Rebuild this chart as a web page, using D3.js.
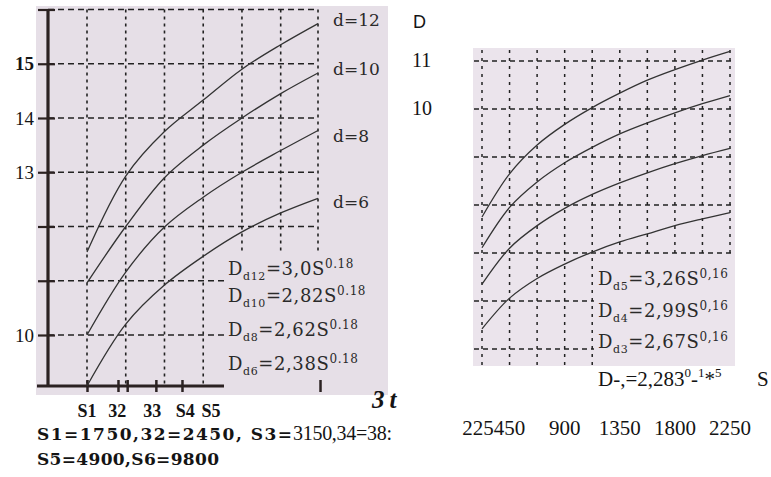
<!DOCTYPE html>
<html>
<head>
<meta charset="utf-8">
<script src="https://cdn.jsdelivr.net/npm/d3@7/dist/d3.min.js"></script>
<style>
  body { margin: 0; background: #fff; }
  svg text { fill: #141414; }
</style>
</head>
<body>
<div id="chart"></div>
<script>
// ---------- values ----------
// left panel: S at the vertical grid lines, D of each curve there
var leftS = [1750, 3100, 4450, 5800, 7150, 8500, 9800];
var leftD12 = [11.53, 12.93, 13.75, 14.33, 14.90, 15.35, 15.74];
var leftD10 = [10.96, 12.00, 12.90, 13.50, 14.00, 14.45, 14.83];
var leftD8 = [10.00, 11.16, 11.99, 12.54, 13.00, 13.40, 13.77];
var leftD6 = [9.06, 10.20, 10.92, 11.45, 11.90, 12.25, 12.52];
var leftNames = ['d=12', 'd=10', 'd=8', 'd=6'];
var leftNameD = [15.7, 14.8, 13.55, 12.35];
var leftSub = ['d12', 'd10', 'd8', 'd6'];
var leftCoef = ['=3,0S', '=2,82S', '=2,62S', '=2,38S'];
var leftExp = '0.18';
var leftYTicks = [10, 11, 12, 13, 14, 15, 16];
var leftYLabels = [15, 14, 13, 10];
var leftBase = 9.06;
var leftXTicks = [1750, 2830, 3150, 4150, 5060, 9870];
var leftXLabels = ['S1', '32', '33', 'S4', 'S5'];
var leftXLabelS = [1750, 2800, 4020, 5170, 6070];

// right panel
var rightS = [225, 450, 675, 900, 1125, 1350, 1575, 1800, 2025, 2250];
var rightD5 = [7.75, 8.65, 9.25, 9.68, 10.03, 10.33, 10.60, 10.82, 11.02, 11.20];
var rightD4 = [7.11, 7.95, 8.48, 8.88, 9.20, 9.48, 9.71, 9.92, 10.11, 10.28];
var rightD3 = [6.35, 7.10, 7.57, 7.93, 8.22, 8.46, 8.67, 8.86, 9.03, 9.18];
var rightD2 = [5.42, 6.06, 6.47, 6.77, 7.02, 7.23, 7.40, 7.57, 7.71, 7.84];
var rightSub = ['d5', 'd4', 'd3'];
var rightCoef = ['=3,26S', '=2,99S', '=2,67S'];
var rightExp = '0,16';
var rightYGrid = [5, 6, 7, 8, 9, 10, 11];
var rightYLabels = [11, 10];
var rightXLabels = [450, 900, 1350, 1800, 2250];
var rightFirstLabel = 225;

function renderChart() {

  var attrs = {
    svgWidth: 771,
    svgHeight: 477,
    paper: '#e6dfe7',
    paperRight: '#ebe4ec',
    ink: '#222',
    curveInk: '#333',
    serif: "'Liberation Serif', 'Times New Roman', serif",
    formula: "'DejaVu Serif', serif",
    sans: "'Liberation Sans', Arial, sans-serif"
  };

  var svg = d3.select('#chart').append('svg')
    .attr('width', attrs.svgWidth)
    .attr('height', attrs.svgHeight);

  // ################## scales ##################
  var scales = {};
  scales.xL = d3.scaleLinear().domain([1750, 9800]).range([87, 318]);
  scales.yL = d3.scaleLinear().domain([10, 16]).range([335, 9.5]);
  scales.xR = d3.scaleLinear().domain([225, 2250]).range([482, 730]);
  scales.yR = d3.scaleLinear().domain([10, 11]).range([109, 61]);

  var lineL = d3.line()
    .x(function (d) { return scales.xL(d[0]); })
    .y(function (d) { return scales.yL(d[1]); })
    .curve(d3.curveCatmullRom.alpha(0.5));
  var lineR = d3.line()
    .x(function (d) { return scales.xR(d[0]); })
    .y(function (d) { return scales.yR(d[1]); })
    .curve(d3.curveCatmullRom.alpha(0.5));

  function zipS(sArr, dArr) { return sArr.map(function (s, i) { return [s, dArr[i]]; }); }

  function formula(g, x, y, sub, coef, exp) {
    var t = g.append('text')
      .attr('x', x).attr('y', y)
      .style('font-family', attrs.formula).style('font-size', '18px')
      .style('letter-spacing', '0.6px')
      .style('fill', '#2a2a2a');
    t.append('tspan').text('D');
    t.append('tspan').attr('dy', 5).style('font-size', '11px').text(sub);
    t.append('tspan').attr('dy', -5).text(coef);
    t.append('tspan').attr('dy', -7).style('font-size', '12px').text(exp);
    return t;
  }

  // ################## left panel ##################
  var left = svg.append('g').attr('class', 'left-panel');
  var baseY = scales.yL(leftBase);

  left.append('rect')
    .attr('x', 36).attr('y', 6).attr('width', 352).attr('height', 389)
    .attr('fill', attrs.paper);

  // grid
  left.selectAll('.hgrid').data(leftYTicks).enter().append('line')
    .attr('class', 'hgrid')
    .attr('x1', 48).attr('x2', scales.xL(9800))
    .attr('y1', function (d) { return scales.yL(d); })
    .attr('y2', function (d) { return scales.yL(d); })
    .attr('stroke', attrs.ink).attr('stroke-width', 1.6)
    .attr('stroke-dasharray', '6,4');

  left.selectAll('.vgrid').data(leftS).enter().append('line')
    .attr('class', 'vgrid')
    .attr('x1', function (d) { return scales.xL(d); })
    .attr('x2', function (d) { return scales.xL(d); })
    .attr('y1', scales.yL(16)).attr('y2', baseY)
    .attr('stroke', attrs.ink).attr('stroke-width', 1.6)
    .attr('stroke-dasharray', '3,4');

  // x axis line
  left.append('line')
    .attr('x1', 37).attr('x2', 388)
    .attr('y1', baseY).attr('y2', baseY)
    .attr('stroke', '#2b2222').attr('stroke-width', 3);

  // formula block hides the grid behind it
  left.append('rect')
    .attr('x', 224).attr('y', 252).attr('width', 164).attr('height', 143)
    .attr('fill', attrs.paper);

  // x ticks
  var xAxisL = left.append('g')
    .attr('transform', 'translate(0,' + baseY + ')')
    .call(d3.axisBottom(scales.xL).tickValues(leftXTicks).tickFormat('').tickSizeOuter(0));
  xAxisL.select('.domain').remove();
  xAxisL.selectAll('.tick line')
    .attr('y1', -6).attr('y2', 6)
    .attr('stroke', '#2b2222').attr('stroke-width', 2.5);

  // y axis
  left.append('line')
    .attr('x1', 48).attr('x2', 48)
    .attr('y1', scales.yL(16)).attr('y2', baseY)
    .attr('stroke', '#2b2222').attr('stroke-width', 3.2);
  var yAxisL = left.append('g')
    .attr('transform', 'translate(48,0)')
    .call(d3.axisLeft(scales.yL).tickValues(leftYTicks).tickFormat('').tickSizeOuter(0));
  yAxisL.select('.domain').remove();
  yAxisL.selectAll('.tick line')
    .attr('x1', -10).attr('x2', 7)
    .attr('stroke', '#2b2222').attr('stroke-width', 2.2);

  left.selectAll('.ylab').data(leftYLabels).enter().append('text')
    .attr('class', 'ylab')
    .attr('x', 34)
    .attr('y', function (d) { return scales.yL(d); })
    .attr('dy', '0.35em')
    .attr('text-anchor', 'end')
    .style('font-family', attrs.serif)
    .style('font-size', '19px')
    .style('font-weight', function (d) { return d === 15 ? 'bold' : 'normal'; })
    .text(function (d) { return d; });

  // curves
  var leftCurves = [leftD12, leftD10, leftD8, leftD6];
  left.selectAll('.curve').data(leftCurves).enter().append('path')
    .attr('class', 'curve')
    .attr('d', function (d) { return lineL(zipS(leftS, d)); })
    .attr('fill', 'none')
    .attr('stroke', attrs.curveInk)
    .attr('stroke-width', 1.3);

  left.selectAll('.cname').data(leftNames).enter().append('text')
    .attr('class', 'cname')
    .attr('x', 333)
    .attr('y', function (d, i) { return scales.yL(leftNameD[i]); })
    .style('font-family', attrs.formula)
    .style('font-size', '17px')
    .style('fill', '#2a2a2a')
    .text(function (d) { return d; });

  var formulaBase = [275, 302, 336, 370];
  leftSub.forEach(function (s, i) {
    formula(left, 228, formulaBase[i], s, leftCoef[i], leftExp);
  });

  // labels under the left panel
  left.selectAll('.xlab').data(leftXLabels).enter().append('text')
    .attr('class', 'xlab')
    .attr('x', function (d, i) { return scales.xL(leftXLabelS[i]); })
    .attr('y', 417)
    .attr('text-anchor', 'middle')
    .style('font-family', attrs.serif).style('font-size', '18px').style('font-weight', 'bold')
    .text(function (d) { return d; });

  left.append('text')
    .attr('x', 372).attr('y', 408)
    .style('font-family', attrs.serif).style('font-size', '25px')
    .style('font-weight', 'bold').style('font-style', 'italic')
    .style('letter-spacing', '5px')
    .text('3t');

  left.append('text')
    .attr('x', 37).attr('y', 440)
    .attr('textLength', 255).attr('lengthAdjust', 'spacing')
    .style('font-family', attrs.formula).style('font-size', '17px').style('font-weight', 'bold')
    .text('S1=1750,32=2450, S3=');
  left.append('text')
    .attr('x', 293).attr('y', 440)
    .attr('textLength', 99).attr('lengthAdjust', 'spacing')
    .style('font-family', attrs.serif).style('font-size', '20px')
    .text('3150,34=38:');

  left.append('text')
    .attr('x', 37).attr('y', 465)
    .attr('textLength', 182).attr('lengthAdjust', 'spacing')
    .style('font-family', attrs.formula).style('font-size', '17px').style('font-weight', 'bold')
    .text('S5=4900,S6=9800');

  // ################## right panel ##################
  var right = svg.append('g').attr('class', 'right-panel');

  right.append('rect')
    .attr('x', 473).attr('y', 48).attr('width', 262).attr('height', 318)
    .attr('fill', attrs.paperRight);

  right.selectAll('.hgrid').data(rightYGrid).enter().append('line')
    .attr('class', 'hgrid')
    .attr('x1', 474).attr('x2', 734)
    .attr('y1', function (d) { return scales.yR(d); })
    .attr('y2', function (d) { return scales.yR(d); })
    .attr('stroke', attrs.ink).attr('stroke-width', 1.5)
    .attr('stroke-dasharray', '5,4');

  right.selectAll('.vgrid').data(rightS).enter().append('line')
    .attr('class', 'vgrid')
    .attr('x1', function (d) { return scales.xR(d); })
    .attr('x2', function (d) { return scales.xR(d); })
    .attr('y1', 50).attr('y2', 366)
    .attr('stroke', attrs.ink).attr('stroke-width', 1.5)
    .attr('stroke-dasharray', '3,5');

  right.append('rect')
    .attr('x', 594).attr('y', 258).attr('width', 141).attr('height', 108)
    .attr('fill', attrs.paperRight);

  var rightCurves = [rightD5, rightD4, rightD3, rightD2];
  right.selectAll('.curve').data(rightCurves).enter().append('path')
    .attr('class', 'curve')
    .attr('d', function (d) { return lineR(zipS(rightS, d)); })
    .attr('fill', 'none')
    .attr('stroke', attrs.curveInk)
    .attr('stroke-width', 1.3);

  var rFormulaBase = [285, 317, 348];
  rightSub.forEach(function (s, i) {
    formula(right, 598, rFormulaBase[i], s, rightCoef[i], rightExp);
  });

  var g2 = right.append('text')
    .attr('x', 598).attr('y', 386)
    .style('font-family', attrs.serif).style('font-size', '21px');
  g2.append('tspan').text('D-,=2,283');
  g2.append('tspan').attr('dy', -9).style('font-size', '13px').text('0');
  g2.append('tspan').attr('dy', 9).text('-');
  g2.append('tspan').attr('dy', -9).style('font-size', '13px').text('1');
  g2.append('tspan').attr('dy', 9).text('*');
  g2.append('tspan').attr('dy', -9).style('font-size', '13px').text('5');

  right.append('text')
    .attr('x', 757).attr('y', 386)
    .style('font-family', attrs.serif).style('font-size', '21px')
    .text('S');

  right.append('text')
    .attr('x', 413).attr('y', 28)
    .style('font-family', attrs.sans).style('font-size', '18px')
    .text('D');

  right.selectAll('.ylab').data(rightYLabels).enter().append('text')
    .attr('class', 'ylab')
    .attr('x', 412)
    .attr('y', function (d) { return scales.yR(d); })
    .attr('dy', '0.3em')
    .style('font-family', attrs.serif).style('font-size', '20px')
    .text(function (d) { return d; });

  right.selectAll('.xlab').data(rightXLabels).enter().append('text')
    .attr('class', 'xlab')
    .attr('x', function (d) { return scales.xR(d); })
    .attr('y', 435)
    .attr('text-anchor', 'middle')
    .style('font-family', attrs.serif).style('font-size', '21px')
    .text(function (d) { return d; });

  // first label is squeezed in front of the "450"
  var lab450 = right.selectAll('.xlab').filter(function (d) { return d === 450; }).node();
  var w450 = lab450.getComputedTextLength();
  right.append('text')
    .attr('x', scales.xR(450) - w450 / 2)
    .attr('y', 435)
    .attr('text-anchor', 'end')
    .style('font-family', attrs.serif).style('font-size', '21px')
    .text(rightFirstLabel);
}

renderChart();
</script>
</body>
</html>
